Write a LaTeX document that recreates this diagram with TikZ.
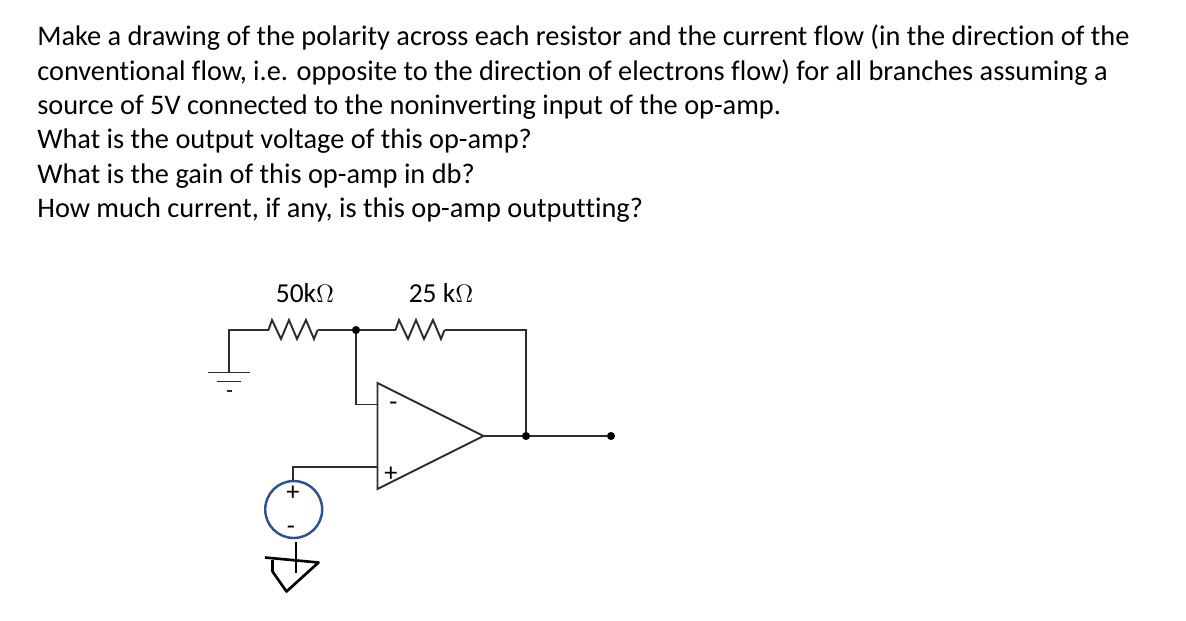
\documentclass[tikz,border=0pt]{standalone}
\usepackage{fontspec}
\setmainfont{Carlito}[Ligatures=NoCommon]
\usepackage{tikz}
\definecolor{srcblue}{RGB}{47,82,143}
\definecolor{wiregray}{RGB}{45,45,45}
\tikzset{
	txt/.style={anchor=base west,inner sep=0pt,font=\fontsize{16.13}{18}\selectfont},
	val/.style={anchor=base,inner sep=0pt,font=\fontsize{15.6}{18}\selectfont},
	sign/.style={inner sep=0pt,font=\fontsize{15}{16}\selectfont},
	wire/.style={draw=wiregray,line width=1.1pt},
	dot/.style={circle,fill=black,inner sep=0pt,minimum size=4.6pt},
	resistor/.style={to path={-- ++(3.5,-10) -- ++(9,19) -- ++(8,-19) -- ++(8,19) -- ++(9,-19) -- ++(8,19) -- (\tikztotarget)}}
}
\begin{document}
\begin{tikzpicture}[x=0.02cm,y=-0.02cm]
\useasboundingbox (0,0) rectangle (1186,620);
\node[txt](l1) at (37,45.5){Make a drawing of the polarity across each resistor and the current flow (in the direction of the};
\node[txt](l2) at (37,80){conventional flow, i.e. opposite to the direction of electrons flow) for all branches assuming a};
\node[txt](l3) at (37,114.5){source of 5V connected to the noninverting input of the op-amp.};
\node[txt](l4) at (37,148.5){What is the output voltage of this op-amp?};
\node[txt](l5) at (37,183){What is the gain of this op-amp in db?};
\node[txt](l6) at (37,217.5){How much current, if any, is this op-amp outputting?};
\node[val](r1label) at (305,302){50k$\Omega$};
\node[val](r2label) at (441,302){25 k$\Omega$};

\coordinate (gnd) at (229,372.5);
\coordinate (corner) at (229,330);
\coordinate (r1a) at (268.5,330);
\coordinate (r1b) at (317.5,330);
\node[dot](mid) at (356,330){};
\coordinate (r2a) at (395.5,330);
\coordinate (r2b) at (444.5,330);
\coordinate (fbk) at (526,330);
\node[dot](outj) at (526,436){};
\node[dot](out) at (611,436){};
\coordinate (top) at (377.5,383);
\coordinate (bot) at (377.5,489);
\coordinate (tip) at (483.5,436);
\coordinate (minus) at (377.5,404.5);
\coordinate (plus) at (377.5,467);
\coordinate (elbow) at (293,467);
\node[circle,draw=srcblue,line width=1.4pt,inner sep=0pt,minimum size=1.14cm](src) at (293.7,509.5){};

\draw[wire] (gnd) -- (corner) -- (r1a);
\draw[wire] (r1a) to[resistor] (r1b);
\draw[wire] (r1b) -- (mid) -- (r2a);
\draw[wire] (r2a) to[resistor] (r2b);
\draw[wire] (r2b) -- (fbk) -- (outj);
\draw[wire] (mid) |- (minus);
\draw[wire] (top) -- (tip) -- (bot) -- cycle;
\draw[wire] (tip) -- (outj) -- (out);
\draw[wire] (plus) -- (elbow) -- (src.north -| elbow);

\coordinate (g1a) at (208,372.5);
\coordinate (g1b) at (250,372.5);
\coordinate (g2a) at (217,381.5);
\coordinate (g2b) at (241,381.5);
\coordinate (g3a) at (226.5,391);
\coordinate (g3b) at (231.5,391);
\draw[wire] (g1a) -- (g1b);
\draw[wire] (g2a) -- (g2b);
\draw[wire] (g3a) -- (g3b);

\node[sign](ominus) at (393.5,406.5){-};
\node[sign](oplus) at (391,474.5){+};
\node[sign](splus) at (293,493.5){+};
\node[sign](sminus) at (291,530.5){-};

\coordinate (h0) at (296,541.5);
\coordinate (h1) at (296,573);
\coordinate (h2) at (265,557.5);
\coordinate (h3) at (318.5,562.5);
\coordinate (h4) at (286.5,591.5);
\coordinate (h5) at (272.5,571.5);
\coordinate (h6) at (272.5,560);
\draw[black,line width=1.5pt] (h0) -- (h1);
\draw[black,line width=1.5pt,line join=round] (h2) -- (h3) -- (h4) -- (h5) -- (h6);
\end{tikzpicture}
\end{document}
